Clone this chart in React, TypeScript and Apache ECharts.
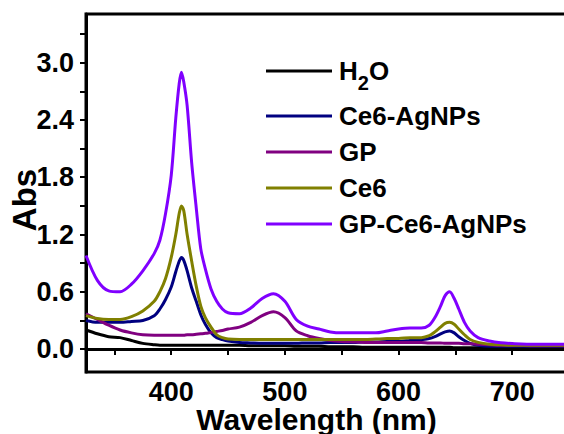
import React, { useEffect, useRef } from "react";
import * as echarts from "echarts";

const wavelengths = [325, 335, 345, 355, 365, 375, 385, 390, 395, 400, 404, 407, 409, 411, 414, 418, 422, 426, 430, 435, 440, 445, 450, 460, 470, 480, 490, 500, 510, 520, 530, 540, 550, 560, 570, 580, 590, 600, 610, 620, 627, 632, 637, 641, 645, 649, 653, 658, 663, 670, 680, 690, 700, 720, 750];

const h2o = [0.20, 0.16, 0.13, 0.12, 0.09, 0.06, 0.045, 0.04, 0.04, 0.04, 0.04, 0.04, 0.04, 0.04, 0.04, 0.04, 0.04, 0.04, 0.04, 0.04, 0.04, 0.04, 0.04, 0.04, 0.035, 0.035, 0.035, 0.035, 0.03, 0.03, 0.03, 0.025, 0.025, 0.025, 0.02, 0.02, 0.02, 0.02, 0.02, 0.02, 0.02, 0.02, 0.02, 0.02, 0.02, 0.015, 0.015, 0.015, 0.015, 0.015, 0.01, 0.01, 0.01, 0.01, 0.01];

const ce6AgNPs = [0.30, 0.28, 0.28, 0.28, 0.29, 0.30, 0.35, 0.42, 0.52, 0.65, 0.81, 0.92, 0.96, 0.93, 0.82, 0.64, 0.50, 0.36, 0.26, 0.17, 0.12, 0.10, 0.085, 0.07, 0.065, 0.06, 0.06, 0.06, 0.06, 0.065, 0.065, 0.07, 0.07, 0.07, 0.075, 0.075, 0.08, 0.08, 0.09, 0.10, 0.11, 0.13, 0.16, 0.18, 0.19, 0.17, 0.13, 0.09, 0.06, 0.04, 0.03, 0.03, 0.03, 0.03, 0.03];

const gp = [0.37, 0.31, 0.25, 0.20, 0.17, 0.15, 0.145, 0.145, 0.145, 0.145, 0.145, 0.145, 0.145, 0.145, 0.15, 0.15, 0.155, 0.16, 0.165, 0.175, 0.185, 0.195, 0.21, 0.23, 0.28, 0.35, 0.39, 0.33, 0.19, 0.14, 0.11, 0.09, 0.08, 0.075, 0.07, 0.07, 0.07, 0.07, 0.07, 0.07, 0.065, 0.065, 0.065, 0.06, 0.06, 0.06, 0.06, 0.055, 0.055, 0.05, 0.045, 0.04, 0.04, 0.035, 0.035];

const ce6 = [0.35, 0.32, 0.31, 0.31, 0.34, 0.40, 0.50, 0.60, 0.74, 0.96, 1.20, 1.42, 1.50, 1.45, 1.20, 0.92, 0.66, 0.45, 0.33, 0.23, 0.15, 0.12, 0.105, 0.10, 0.10, 0.10, 0.10, 0.10, 0.10, 0.10, 0.10, 0.10, 0.10, 0.10, 0.10, 0.105, 0.11, 0.11, 0.12, 0.12, 0.14, 0.18, 0.23, 0.27, 0.28, 0.26, 0.21, 0.15, 0.10, 0.07, 0.05, 0.045, 0.04, 0.04, 0.04];

const gpCe6AgNPs = [0.98, 0.72, 0.61, 0.60, 0.68, 0.82, 1.00, 1.14, 1.42, 1.82, 2.42, 2.78, 2.90, 2.80, 2.55, 1.95, 1.48, 1.05, 0.84, 0.63, 0.50, 0.42, 0.38, 0.37, 0.43, 0.53, 0.58, 0.50, 0.31, 0.24, 0.21, 0.18, 0.17, 0.17, 0.17, 0.17, 0.19, 0.21, 0.22, 0.22, 0.25, 0.33, 0.45, 0.56, 0.60, 0.53, 0.42, 0.28, 0.19, 0.12, 0.085, 0.066, 0.058, 0.05, 0.05];

const seriesNames = ["H2O", "Ce6-AgNPs", "GP", "Ce6", "GP-Ce6-AgNPs"];
const seriesValues = [h2o, ce6AgNPs, gp, ce6, gpCe6AgNPs];
const seriesColors = ["#000000", "#000080", "#800080", "#808000", "#8000FF"];

const xTickValues = [350, 400, 450, 500, 550, 600, 650, 700, 750];
const xLabelValues = [400, 500, 600, 700];
const yTickValues = [0, 0.3, 0.6, 0.9, 1.2, 1.5, 1.8, 2.1, 2.4, 2.7, 3.0, 3.3];
const yLabelValues = [0, 0.6, 1.2, 1.8, 2.4, 3.0];

const FONT = "'Liberation Sans', Arial, sans-serif";

export default function App() {
  const ref = useRef<HTMLDivElement>(null);
  useEffect(() => {
    if (!ref.current) return;
    const chart = echarts.init(ref.current, null, { renderer: "svg" });
    chart.setOption({
      animation: false,
      backgroundColor: "#ffffff",
      grid: {
        left: 86,
        top: 14,
        right: -5,
        bottom: 62,
        show: true,
        borderColor: "#000",
        borderWidth: 3,
        containLabel: false,
        outerBoundsMode: "none",
      },
      legend: {
        orient: "vertical",
        left: 266,
        top: 58,
        padding: 0,
        itemWidth: 66,
        itemHeight: 3,
        itemGap: 10,
        icon: "rect",
        data: seriesNames,
        formatter: (name: string) =>
          name === "H2O" ? "{n|H}{s|2}{n|O}" : name,
        textStyle: {
          fontFamily: FONT,
          fontWeight: "bold",
          fontSize: 26,
          color: "#000",
          padding: [0, 0, 0, 2],
          rich: {
            n: { fontFamily: FONT, fontWeight: "bold", fontSize: 26, color: "#000" },
            s: {
              fontFamily: FONT,
              fontWeight: "bold",
              fontSize: 20,
              color: "#000",
              padding: [24, 0, 0, 0],
            },
          },
        },
      },
      xAxis: {
        type: "value",
        min: 325,
        max: 750,
        name: "Wavelength (nm)",
        nameLocation: "middle",
        nameGap: 33,
        nameMoveOverlap: false,
        nameTextStyle: {
          fontFamily: FONT,
          fontWeight: "bold",
          fontSize: 30,
          lineHeight: 28,
          color: "#000",
          padding: [0, 22, 0, 0],
        },
        axisLine: { show: true, lineStyle: { color: "#000", width: 3 } },
        axisTick: {
          show: true,
          inside: false,
          length: 6,
          lineStyle: { color: "#000", width: 2 },
          customValues: xTickValues,
        },
        axisLabel: {
          customValues: xLabelValues,
          fontFamily: FONT,
          fontWeight: "bold",
          fontSize: 27,
          lineHeight: 22,
          color: "#000",
          margin: 9,
        },
        splitLine: { show: false },
      },
      yAxis: {
        type: "value",
        min: -0.24,
        max: 3.51,
        name: "Abs",
        nameLocation: "middle",
        nameGap: 45,
        nameMoveOverlap: false,
        nameTextStyle: {
          fontFamily: FONT,
          fontWeight: "bold",
          fontSize: 33,
          color: "#000",
          padding: [0, 14, 0, 0],
        },
        axisLine: { show: true, lineStyle: { color: "#000", width: 3 } },
        axisTick: {
          show: true,
          inside: false,
          length: 6,
          lineStyle: { color: "#000", width: 2 },
          customValues: yTickValues,
        },
        axisLabel: {
          customValues: yLabelValues,
          formatter: (v: number) => v.toFixed(1),
          fontFamily: FONT,
          fontWeight: "bold",
          fontSize: 27,
          color: "#000",
          margin: 12,
        },
        splitLine: { show: false },
      },
      series: seriesNames.map((name, i) => ({
        name,
        type: "line",
        data: wavelengths.map((w, j) => [w, seriesValues[i][j]]),
        showSymbol: false,
        smooth: 0.3,
        lineStyle: { color: seriesColors[i], width: 3 },
        itemStyle: { color: seriesColors[i] },
      })),
    });
    return () => chart.dispose();
  }, []);
  return (
    <div
      ref={ref}
      style={{ position: "fixed", left: 0, top: 0, width: 564, height: 434 }}
    />
  );
}
